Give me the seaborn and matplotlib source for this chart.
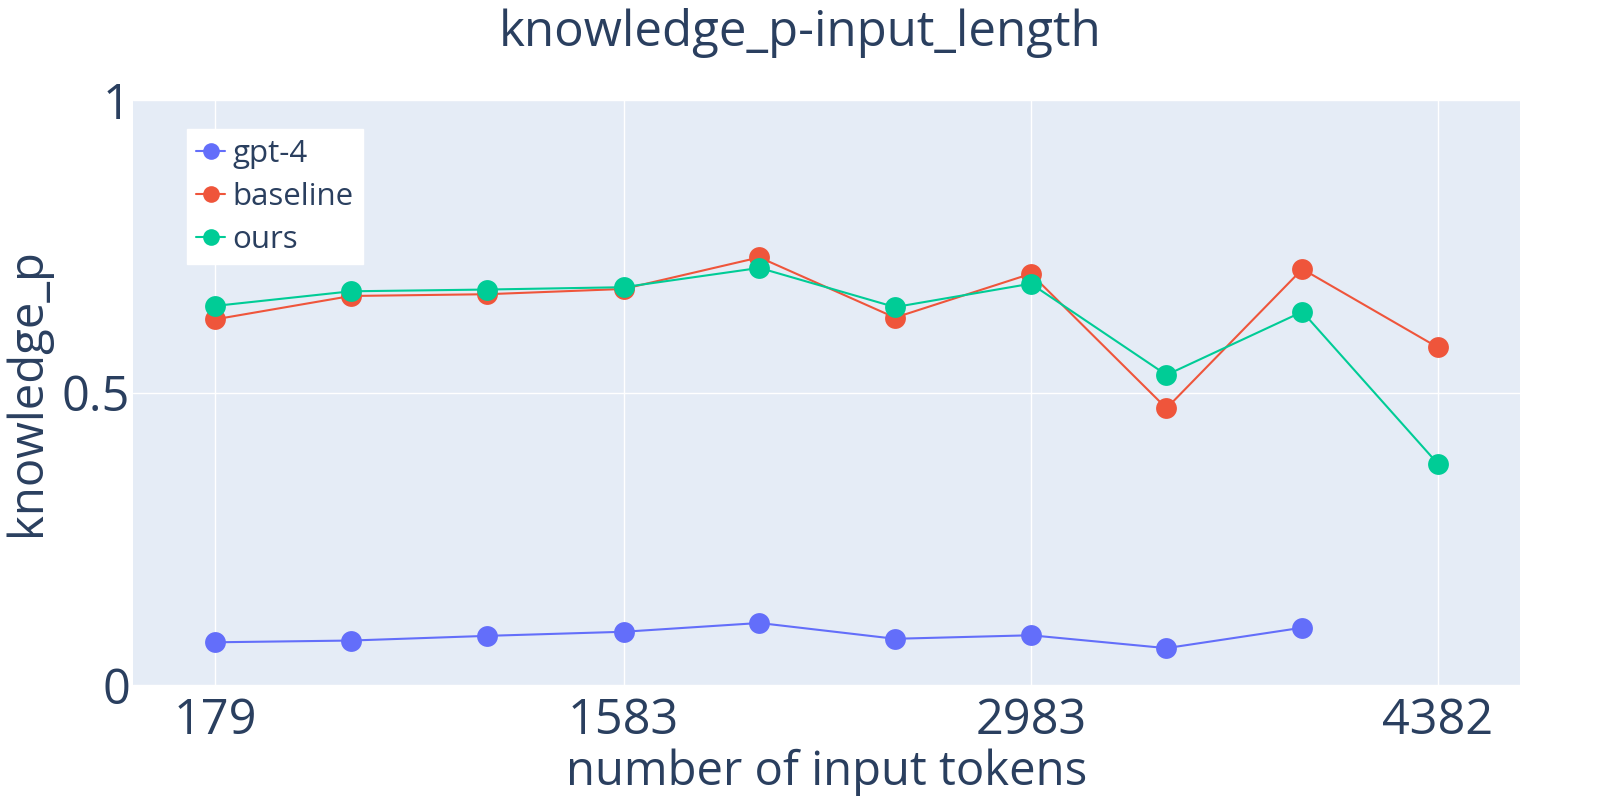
import pandas as pd
import seaborn as sns
from matplotlib import pyplot as plt

# number of input tokens (x positions, evenly spaced in the reference)
tokens = [179, 646, 1114, 1583, 2050, 2516, 2983, 3449, 3916, 4382]
tick_vals = [179, 1583, 2983, 4382]

gpt4 = [0.073, 0.076, 0.084, 0.091, 0.106, 0.079, 0.085, 0.063, 0.098, None]
baseline = [0.625, 0.665, 0.668, 0.677, 0.731, 0.628, 0.703, 0.473, 0.711, 0.577]
ours = [0.648, 0.673, 0.676, 0.680, 0.713, 0.646, 0.686, 0.530, 0.638, 0.378]

models = ['gpt-4', 'baseline', 'ours']
colors = ['#636EFA', '#EF553B', '#00CC96']
text_color = '#2a3f5f'


def build_frame():
    rows = []
    for name, vals in zip(models, [gpt4, baseline, ours]):
        for t, v in zip(tokens, vals):
            if v is not None:
                rows.append({'tokens': t, 'knowledge_p': v, 'model': name})
    return pd.DataFrame(rows)


def draw():
    df = build_frame()

    sns.set_style('darkgrid', {'axes.facecolor': '#E5ECF6', 'grid.color': 'white'})
    plt.rcParams['font.family'] = ['Open Sans', 'DejaVu Sans']

    fig = plt.figure(figsize=(16, 8), dpi=100)
    ax = fig.add_axes([0.0831, 0.14375, 0.8669, 0.73125])

    sns.lineplot(data=df, x='tokens', y='knowledge_p', hue='model',
                 hue_order=models, palette=colors,
                 marker='o', markersize=15, markeredgewidth=0,
                 linewidth=1.5, ax=ax)

    ax.set_xlim(-103, 4664)
    ax.set_ylim(0, 1)
    ax.set_xticks(tick_vals)
    ax.set_xticklabels([str(v) for v in tick_vals])
    ax.set_yticks([0, 0.5, 1])
    ax.set_yticklabels(['0', '0.5', '1'])
    ax.grid(True, color='white', linewidth=1.0)
    for s in ax.spines.values():
        s.set_visible(False)

    ax.tick_params(axis='both', length=0, labelsize=35, colors=text_color)
    ax.tick_params(axis='x', pad=8)
    ax.tick_params(axis='y', pad=2)

    ax.set_xlabel('number of input tokens', fontsize=34, color=text_color, labelpad=2)
    ax.set_ylabel('knowledge_p', fontsize=34, color=text_color, labelpad=8)
    fig.suptitle('knowledge_p-input_length', fontsize=35.5, color=text_color, y=0.99)

    leg = ax.legend(loc='upper left', bbox_to_anchor=(0.039, 0.95), fontsize=22.5,
                    frameon=True, fancybox=False, framealpha=1, edgecolor='white',
                    facecolor='white', borderpad=0.3, handlelength=0.93,
                    handletextpad=0.22, labelspacing=0.42, borderaxespad=0)
    for t in leg.get_texts():
        t.set_color(text_color)
    for h in leg.legend_handles:
        h.set_markersize(12)

    fig.savefig('out.png', dpi=100)


if __name__ == '__main__':
    draw()
